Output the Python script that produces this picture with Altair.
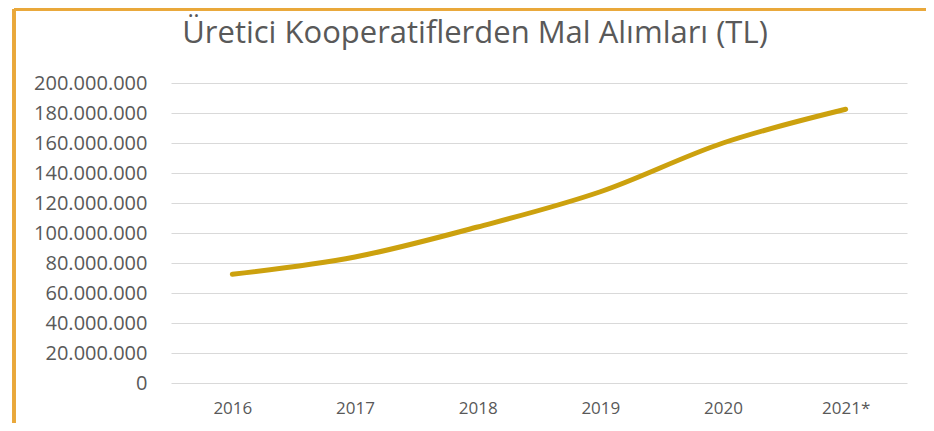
import altair as alt
import pandas as pd

years = ["2016", "2017", "2018", "2019", "2020", "2021*"]
values = [72500000, 84000000, 104000000, 127500000, 160000000, 182500000]

title_text = "Üretici Kooperatiflerden Mal Alımları (TL)"
line_color = "#CCA10E"
border_color = "#E9A83A"
label_color = "#595959"
grid_color = "#D9D9D9"

df = pd.DataFrame({"year": years, "value": values})

W, H = 736, 300
PAD_L, PAD_T = 163, 75
CANVAS_W, CANVAS_H = 918, 415

base = alt.Chart(df)

line = base.mark_line(
    color=line_color, strokeWidth=5, interpolate="monotone", strokeCap="round"
).encode(
    x=alt.X(
        "year:N",
        sort=years,
        title=None,
        scale=alt.Scale(paddingInner=0, paddingOuter=0.5),
        axis=alt.Axis(
            labelAngle=0,
            labelFont="Open Sans",
            labelFontSize=17,
            labelColor=label_color,
            labelPadding=17,
            domain=False,
            ticks=False,
            grid=False,
        ),
    ),
    y=alt.Y(
        "value:Q",
        title=None,
        scale=alt.Scale(domain=[0, 200000000], nice=False),
        axis=alt.Axis(
            values=list(range(0, 200000001, 20000000)),
            labelExpr="join(split(format(datum.value, ','), ','), '.')",
            labelFont="Open Sans",
            labelFontSize=20,
            labelColor=label_color,
            labelPadding=24,
            domain=False,
            ticks=False,
            gridColor=grid_color,
            gridWidth=1,
        ),
    ),
)

title = alt.Chart(pd.DataFrame({"t": [title_text]})).mark_text(
    font="Open Sans", fontSize=31, color="#595959", align="center", baseline="middle"
).encode(
    text="t:N",
    x=alt.value(475 - 8 - PAD_L),
    y=alt.value(34 - 8 - PAD_T),
)

top_border = base.mark_rule(color=border_color, strokeWidth=3).encode(
    x=alt.value(-PAD_L + 6),
    x2=alt.value(CANVAS_W - PAD_L),
    y=alt.value(-PAD_T + 1),
)
left_border = base.mark_rule(color=border_color, strokeWidth=3).encode(
    x=alt.value(-PAD_L + 6),
    y=alt.value(-PAD_T + 1),
    y2=alt.value(CANVAS_H - PAD_T),
)

chart = alt.layer(line, title, top_border, left_border).properties(
    width=W,
    height=H,
    padding={"left": PAD_L, "top": PAD_T, "right": CANVAS_W - PAD_L - W, "bottom": CANVAS_H - PAD_T - H},
    autosize=alt.AutoSizeParams(type="none"),
).configure(background="white").configure_view(strokeWidth=0)

chart.save("out.html", embed_options={"renderer": "svg", "actions": False})
